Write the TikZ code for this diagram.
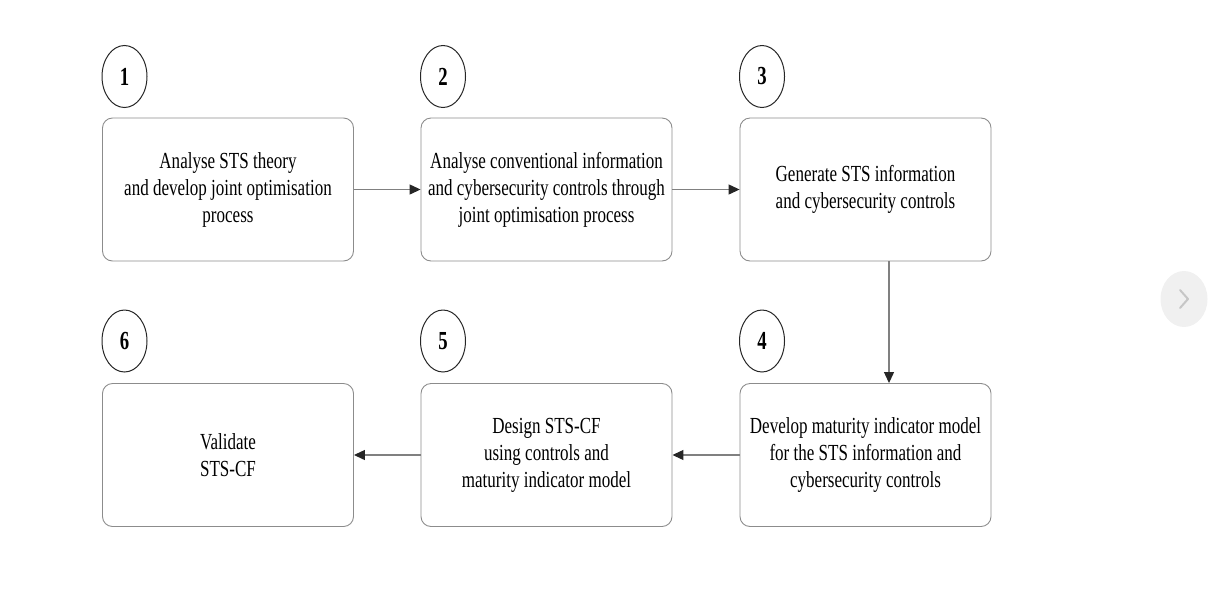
\documentclass[tikz,border=0pt]{standalone}
\usepackage{fontspec}
\setmainfont{Liberation Serif}
\newfontfamily\stepfont[FakeStretch=0.74]{Liberation Serif}
\newfontfamily\numfont[FakeStretch=0.72]{Liberation Serif}
\usetikzlibrary{arrows.meta,shapes.geometric}
\begin{document}
\begin{tikzpicture}[x=1pt,y=-1pt,
  stepbox/.style={draw=black!45,line width=0.9pt,rounded corners=10pt,
    minimum width=251pt,minimum height=143pt,align=center,inner sep=0pt,
    font=\stepfont\fontsize{23}{27}\selectfont},
  num/.style={draw=black!85,line width=1pt,ellipse,minimum width=45pt,
    minimum height=62pt,inner sep=0pt,
    font=\numfont\bfseries\fontsize{26}{28}\selectfont},
  flow/.style={draw=black!50,line width=1.2pt,
    -{Triangle[length=11pt,width=10pt,fill=black!85,color=black!85]}}]
\useasboundingbox (0,0) rectangle (1225,595);

% process steps
\node[stepbox] (s1) at (228,189.5) {Analyse STS theory\\and develop joint optimisation\\process};
\node[stepbox] (s2) at (546.5,189.5) {Analyse conventional information\\and cybersecurity controls through\\joint optimisation process};
\node[stepbox] (s3) at (865.5,189.5) {Generate STS information\\and cybersecurity controls};
\node[stepbox] (s4) at (865.5,455) {Develop maturity indicator model\\for the STS information and\\cybersecurity controls};
\node[stepbox] (s5) at (546.5,455) {Design STS-CF\\using controls and\\maturity indicator model};
\node[stepbox] (s6) at (228,455) {Validate\\STS-CF};

% step numbers
\node[num] (n1) at (124.5,76.5) {1};
\node[num] (n2) at (443,76.5) {2};
\node[num] (n3) at (762,76.5) {3};
\node[num] (n4) at (762,341) {4};
\node[num] (n5) at (443,341) {5};
\node[num] (n6) at (124.5,341) {6};

% flow between steps
\draw[flow] (s1.east) -- (s2.west);
\draw[flow] (s2.east) -- (s3.west);
\draw[flow] (s3.south -| 889,0) -- (s4.north -| 889,0);
\draw[flow] (s4.west) -- (s5.east);
\draw[flow] (s5.west) -- (s6.east);

% side navigation button
\node[ellipse,fill=gray!12,minimum width=47pt,minimum height=56pt,inner sep=0pt] (nav) at (1184,299) {};
\draw[gray!45,line width=2pt,line cap=round,line join=round]
  ([shift={(-4,-9)}]nav.center) -- ([shift={(4,0)}]nav.center) -- ([shift={(-4,9)}]nav.center);
\end{tikzpicture}
\end{document}
